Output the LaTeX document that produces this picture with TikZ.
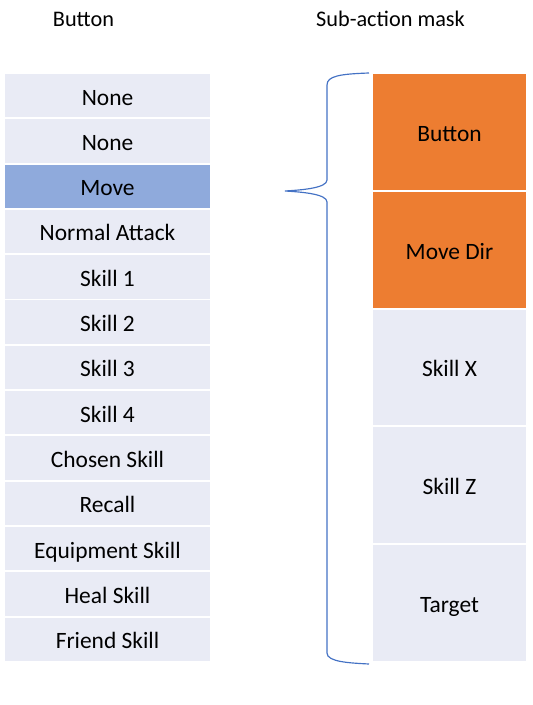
\documentclass[tikz,border=0pt]{standalone}
\usepackage{fontspec}
\setmainfont{Carlito}
\usepackage{tikz}
\usetikzlibrary{positioning, calc}
\definecolor{cellbg}{RGB}{233, 235, 245}
\definecolor{movebg}{RGB}{143, 170, 220}
\definecolor{maskorange}{RGB}{237, 125, 49}
\definecolor{braceblue}{RGB}{68, 114, 196}

\begin{document}
\begin{tikzpicture}[
				x=0.03cm, y=-0.03cm,
				cellbox/.style={rectangle, draw=white, line width=1.7pt, fill=cellbg, minimum width=6.21cm, minimum height=1.359cm, inner sep=0pt, text height=16pt, text depth=0pt, font=\fontsize{20}{24}\selectfont},
				maskbox/.style={rectangle, draw=white, line width=1.7pt, fill=cellbg, minimum width=4.65cm, minimum height=3.534cm, inner sep=0pt, text height=16pt, text depth=0pt, font=\fontsize{20}{24}\selectfont},
				headbox/.style={font=\fontsize{19}{23}\selectfont}
				]
				\useasboundingbox (0,0) rectangle (532,705);
				% Headers
				\node[headbox] (head_button) at (83.5, 19) {Button};
				\node[headbox] (head_mask) at (390.5, 19) {Sub-action mask};
				
				% Button column
				\node[cellbox] (b1) at (107.5, 95.65) {None};
				\node[cellbox] (b2) at (107.5, 140.95) {None};
				\node[cellbox, fill=movebg] (b3) at (107.5, 186.25) {Move};
				\node[cellbox] (b4) at (107.5, 231.55) {Normal Attack};
				\node[cellbox] (b5) at (107.5, 276.85) {Skill 1};
				\node[cellbox] (b6) at (107.5, 322.15) {Skill 2};
				\node[cellbox] (b7) at (107.5, 367.45) {Skill 3};
				\node[cellbox] (b8) at (107.5, 412.75) {Skill 4};
				\node[cellbox] (b9) at (107.5, 458.05) {Chosen Skill};
				\node[cellbox] (b10) at (107.5, 503.35) {Recall};
				\node[cellbox] (b11) at (107.5, 548.65) {Equipment Skill};
				\node[cellbox] (b12) at (107.5, 593.95) {Heal Skill};
				\node[cellbox] (b13) at (107.5, 639.25) {Friend Skill};
				
				% Sub-action mask column
				\node[maskbox, fill=maskorange] (m1) at (449.5, 131.9) {Button};
				\node[maskbox, fill=maskorange] (m2) at (449.5, 249.7) {Move Dir};
				\node[maskbox] (m3) at (449.5, 367.5) {Skill X};
				\node[maskbox] (m4) at (449.5, 485.3) {Skill Z};
				\node[maskbox] (m5) at (449.5, 603.1) {Target};
				
				% Brace
				\coordinate (brace_top) at (369, 73);
				\coordinate (brace_tip) at (285, 191);
				\coordinate (brace_bot) at (369, 664);
				\draw[braceblue, line width=1pt] (brace_top) .. controls (340,74) and (327,76) .. (327,85)
					-- (327,180) .. controls (327,188) and (302,190) .. (brace_tip)
					.. controls (302,192) and (327,194) .. (327,202)
					-- (327,653) .. controls (327,662) and (350,663) .. (brace_bot);
			\end{tikzpicture}
\end{document}
